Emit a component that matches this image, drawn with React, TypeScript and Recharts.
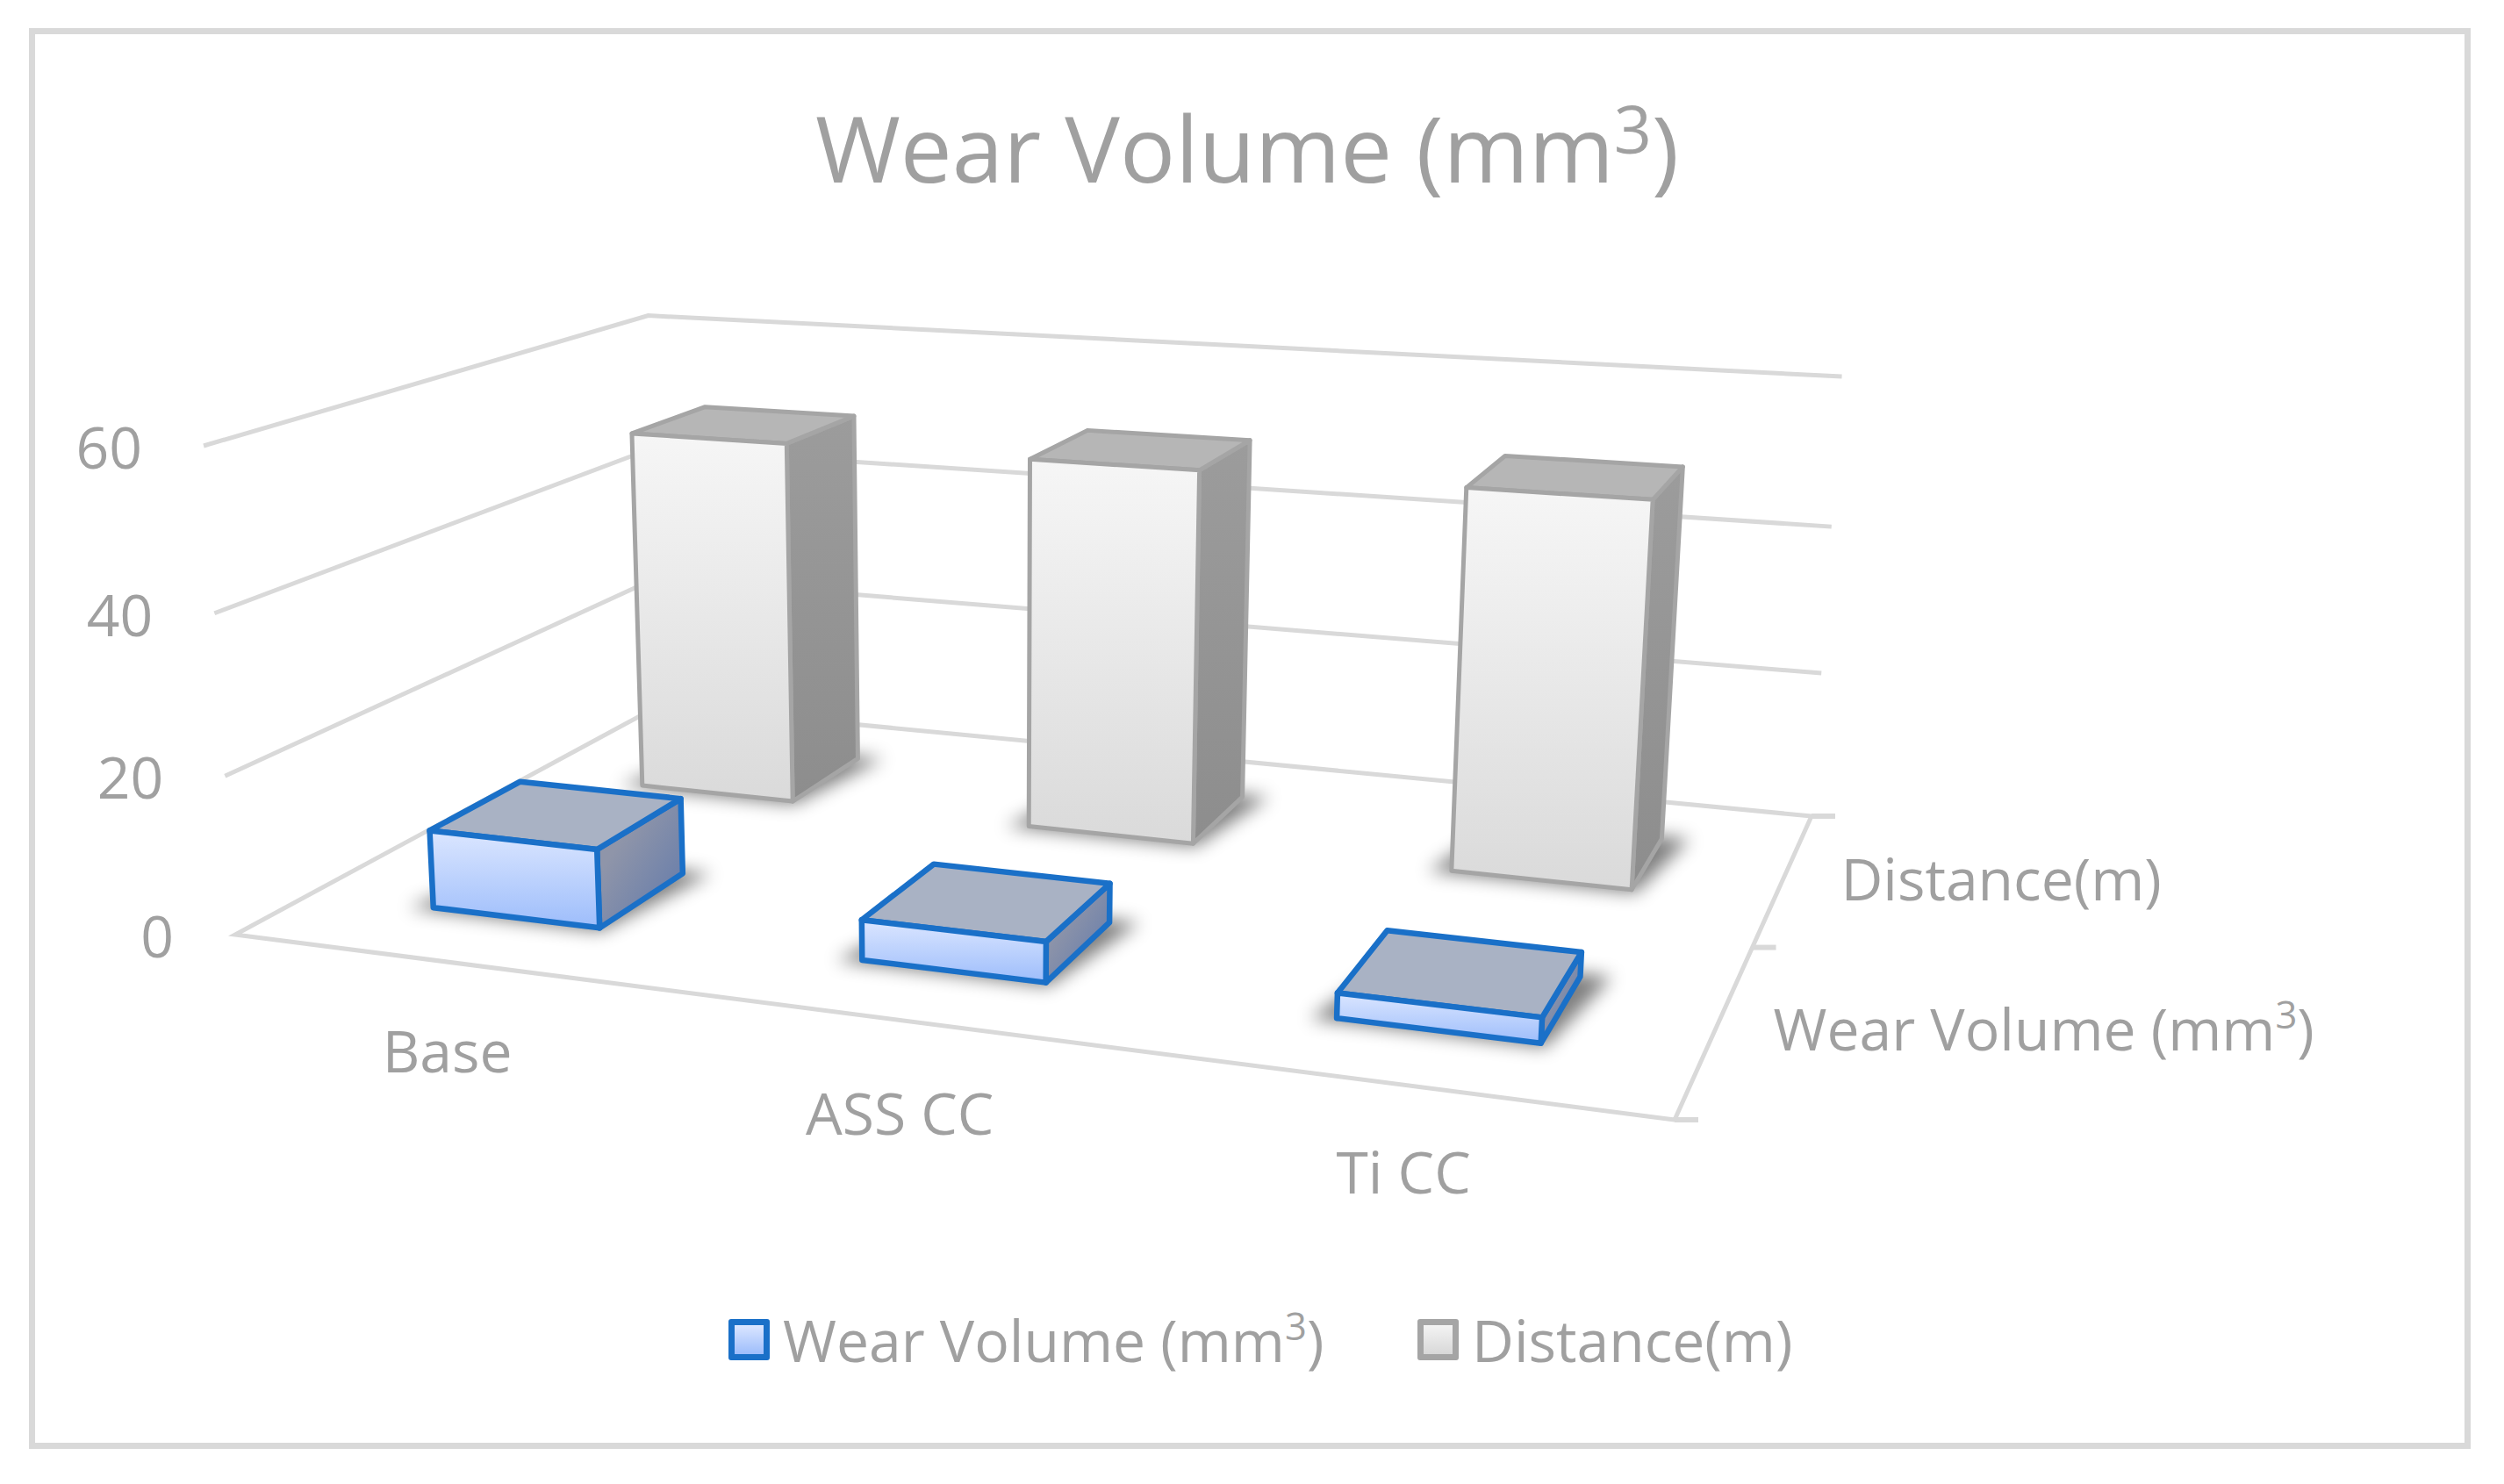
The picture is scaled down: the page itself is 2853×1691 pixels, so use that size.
import { BarChart, Bar, XAxis, YAxis, CartesianGrid, Legend } from "recharts";

const categories = ["Base", "ASS CC", "Ti CC"];
const wearVolume = [10, 5, 3];
const distance = [50, 50, 50];
const valueTicks = [0, 20, 40, 60];
// front to back along the depth axis
const seriesNames = ["Wear Volume (mm³)", "Distance(m)"];
const chartTitle = "Wear Volume (mm³)";

const data = categories.map((name, i) => ({
  name,
  wear: wearVolume[i],
  distance: distance[i],
}));

const W = 2853;
const H = 1691;
const FONT = "'Open Sans', sans-serif";
const TEXT = "#a0a0a0";
const GRID = "#d9d9d9";
const LABEL_SIZE = 66;

// the chart's 3D cube as it lands on the page: one corner, its three
// neighbours, and the perspective weight of each of those three
const O = { x: 268, y: 1065 };
const U = { x: 1908, y: 1276 };
const V = { x: 751, y: 804 };
const Z = { x: 232, y: 508 };
const [wu, wv, wz] = [0.8515, 1.2667, 0.96];

function project(u: number, v: number, z: number) {
  const d = 1 + u * (wu - 1) + v * (wv - 1) + z * (wz - 1);
  return {
    x: (O.x + u * (wu * U.x - O.x) + v * (wv * V.x - O.x) + z * (wz * Z.x - O.x)) / d,
    y: (O.y + u * (wu * U.y - O.y) + v * (wv * V.y - O.y) + z * (wz * Z.y - O.y)) / d,
  };
}

const pts = (list: { x: number; y: number }[]) =>
  list.map((p) => `${p.x},${p.y}`).join(" ");

// "mm³" is set in the reference with a big raised 3, not the small glyph
function SvgLabel({ text, size, rise, ratio, ...rest }: any) {
  const [head, tail] = text.split("³");
  if (tail === undefined) return <text fontFamily={FONT} fontSize={size} fill={TEXT} {...rest}>{text}</text>;
  return (
    <text fontFamily={FONT} fontSize={size} fill={TEXT} {...rest}>
      {head}
      <tspan dy={-rise} fontSize={size * ratio}>3</tspan>
      <tspan dy={rise}>{tail}</tspan>
    </text>
  );
}

function Box3D({ x, width, height, depth, look }: any) {
  const u0 = x / W;
  const u1 = (x + width) / W;
  const z = height / H;
  // same 40% share of the band as the category axis gets from barCategoryGap
  const band = 1 / seriesNames.length;
  const v0 = (depth + 0.3) * band;
  const v1 = (depth + 0.7) * band;

  const shadow = [
    project(u0 - 0.016, v0 - 0.01, 0),
    project(u1 + 0.004, v0 - 0.01, 0),
    project(u1 + 0.02, v1 + 0.01, 0),
    project(u0 + 0.01, v1 + 0.01, 0),
  ];
  const front = [project(u0, v0, z), project(u1, v0, z), project(u1, v0, 0), project(u0, v0, 0)];
  const side = [project(u1, v0, z), project(u1, v1, z), project(u1, v1, 0), project(u1, v0, 0)];
  const top = [project(u0, v1, z), project(u1, v1, z), project(u1, v0, z), project(u0, v0, z)];
  const line = { stroke: look.stroke, strokeWidth: look.strokeWidth, strokeLinejoin: "round" as const };

  return (
    <g>
      <polygon points={pts(shadow)} fill="#000" opacity={0.5} filter="url(#floorShadow)" />
      <polygon points={pts(side)} fill={`url(#${look.side})`} {...line} />
      <polygon points={pts(top)} fill={look.top} {...line} />
      <polygon points={pts(front)} fill={`url(#${look.front})`} {...line} />
    </g>
  );
}

const wearLook = { stroke: "#1a70c8", strokeWidth: 6.5, top: "#a9b2c4", front: "wearFront", side: "wearSide" };
const distanceLook = { stroke: "#a5a5a5", strokeWidth: 5, top: "#b6b6b6", front: "distanceFront", side: "distanceSide" };

function GridLine({ y1 }: any) {
  const z = (H - y1) / H;
  const wall = [project(0, 0, z), project(0, 1, z), project(1, 1, z)];
  if (z > 0.001) {
    return <polyline points={pts(wall)} fill="none" stroke={GRID} strokeWidth={5} />;
  }
  // floor: the walls' base plus the front edge and the depth axis with its ticks
  const floor = [project(1, 1, 0), project(0, 1, 0), project(0, 0, 0), project(1, 0, 0), project(1, 1, 0)];
  return (
    <g>
      <polyline points={pts(floor)} fill="none" stroke={GRID} strokeWidth={5} />
      {[0, 0.5, 1].map((v) => {
        const p = project(1, v, 0);
        return <line key={v} x1={p.x} y1={p.y} x2={p.x + 27} y2={p.y} stroke={GRID} strokeWidth={6} />;
      })}
    </g>
  );
}

function ValueTick({ y, payload }: any) {
  const edge = project(0, 0, (H - y) / H);
  return (
    <text x={edge.x - 70} y={edge.y + 26} textAnchor="end" fontFamily={FONT} fontSize={LABEL_SIZE} fill={TEXT}>
      {payload.value}
    </text>
  );
}

// Excel sets the middle label a little lower than the others
const categoryDrop = [126, 131, 124];

function CategoryTick({ x, index, payload }: any) {
  const edge = project(x / W, 0, 0);
  return (
    <text x={edge.x + 3} y={edge.y + categoryDrop[index]} textAnchor="middle" fontFamily={FONT} fontSize={LABEL_SIZE} fill={TEXT}>
      {payload.value}
    </text>
  );
}

function ChartLabels() {
  return (
    <g>
      <SvgLabel text={chartTitle} size={105} rise={33} ratio={0.72} x={1421} y={208} textAnchor="middle" />
      {seriesNames.map((name, i) => {
        const p = project(1, (i + 0.5) / seriesNames.length, 0);
        return <SvgLabel key={name} text={name} size={LABEL_SIZE} rise={25} ratio={0.66} x={p.x + 65} y={p.y + 26} />;
      })}
    </g>
  );
}

const swatches: Record<string, { border: string; fill: string }> = {
  wear: { border: "#1a70c8", fill: "linear-gradient(#dbe6ff, #9dbdfb)" },
  distance: { border: "#a5a5a5", fill: "linear-gradient(#f3f3f3, #d8d8d8)" },
};

function LegendRow({ payload }: any) {
  const items = [...(payload ?? [])].reverse();
  return (
    <div style={{ display: "flex", fontFamily: FONT, fontSize: LABEL_SIZE, color: TEXT, lineHeight: "70px" }}>
      {items.map((item: any) => {
        const [head, tail] = item.value.split("³");
        return (
          <div key={item.value} style={{ display: "flex", alignItems: "center", width: 785 }}>
            <span
              style={{
                boxSizing: "border-box",
                width: 47,
                height: 47,
                marginRight: 15,
                border: `7px solid ${swatches[item.dataKey].border}`,
                borderRadius: 3,
                background: swatches[item.dataKey].fill,
              }}
            />
            <span>
              {head}
              {tail !== undefined && (
                <span style={{ fontSize: "0.66em", lineHeight: 0, position: "relative", top: -25 }}>3</span>
              )}
              {tail}
            </span>
          </div>
        );
      })}
    </div>
  );
}

export default function App() {
  return (
    <div style={{ position: "absolute", left: 0, top: 0, width: W, height: H, background: "#fff" }}>
      <div
        style={{
          position: "absolute",
          left: 33,
          top: 32,
          width: 2768,
          height: 1605,
          border: `7px solid ${GRID}`,
        }}
      />
      <div style={{ position: "absolute", left: 0, top: 0 }}>
        <BarChart
          width={W}
          height={H}
          data={data}
          barCategoryGap="30%"
          margin={{ top: 0, right: 0, bottom: 0, left: 0 }}
        >
          <defs>
            <filter id="floorShadow" x="-30%" y="-30%" width="160%" height="160%">
              <feGaussianBlur stdDeviation="10" />
            </filter>
            <linearGradient id="wearFront" x1="0" y1="0" x2="0" y2="1">
              <stop offset="0" stopColor="#dbe6ff" />
              <stop offset="1" stopColor="#9dbdfb" />
            </linearGradient>
            <linearGradient id="wearSide" x1="0" y1="0" x2="1" y2="1">
              <stop offset="0.3" stopColor="#8f95a9" />
              <stop offset="1" stopColor="#5f78ab" />
            </linearGradient>
            <linearGradient id="distanceFront" x1="0" y1="0" x2="0" y2="1">
              <stop offset="0" stopColor="#f6f6f6" />
              <stop offset="1" stopColor="#dadada" />
            </linearGradient>
            <linearGradient id="distanceSide" x1="0" y1="0" x2="0" y2="1">
              <stop offset="0" stopColor="#9c9c9c" />
              <stop offset="1" stopColor="#8d8d8d" />
            </linearGradient>
          </defs>
          <CartesianGrid vertical={false} horizontal={GridLine} syncWithTicks />
          <XAxis
            xAxisId="wear"
            dataKey="name"
            mirror
            height={60}
            axisLine={false}
            tickLine={false}
            interval={0}
            tick={CategoryTick}
          />
          <XAxis xAxisId="distance" dataKey="name" hide />
          <YAxis
            mirror
            width={60}
            domain={[0, 60]}
            ticks={valueTicks}
            axisLine={false}
            tickLine={false}
            interval={0}
            tick={ValueTick}
          />
          <Bar
            xAxisId="distance"
            dataKey="distance"
            name={seriesNames[1]}
            isAnimationActive={false}
            shape={(p: any) => <Box3D {...p} depth={1} look={distanceLook} />}
          />
          <Bar
            xAxisId="wear"
            dataKey="wear"
            name={seriesNames[0]}
            isAnimationActive={false}
            shape={(p: any) => <Box3D {...p} depth={0} look={wearLook} />}
          />
          <ChartLabels />
          <Legend
            layout="horizontal"
            align="center"
            verticalAlign="middle"
            content={LegendRow}
            wrapperStyle={{ left: 830, top: 1491, width: 1700 }}
          />
        </BarChart>
      </div>
    </div>
  );
}
